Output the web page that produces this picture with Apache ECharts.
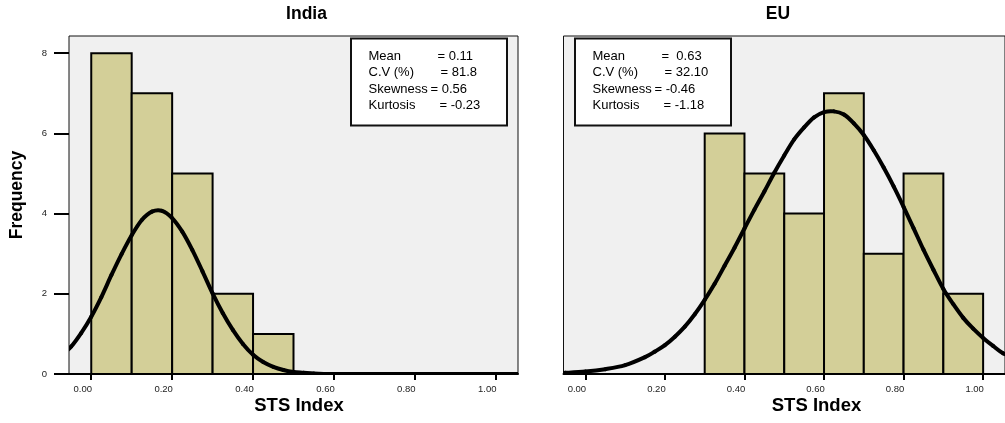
<!DOCTYPE html>
<html>
<head>
<meta charset="utf-8">
<script src="https://cdn.jsdelivr.net/npm/echarts@6/dist/echarts.min.js"></script>
<style>
html,body{margin:0;padding:0;background:#fff;}
#c{width:1005px;height:423px;}
</style>
</head>
<body>
<div id="c"></div>
<script>
// ---- data ----
var binWidth = 0.1;
var indiaBinStarts = [0.0, 0.1, 0.2, 0.3, 0.4];
var indiaCounts = [8, 7, 5, 2, 1];
var euBinStarts = [0.3, 0.4, 0.5, 0.6, 0.7, 0.8, 0.9];
var euCounts = [6, 5, 4, 7, 3, 5, 2];

// normal curves (x, frequency)
var indiaCurveX = [-0.075, -0.05, -0.025, 0.0, 0.025, 0.05, 0.075, 0.10, 0.125, 0.15, 0.175, 0.20, 0.225, 0.25, 0.275, 0.30, 0.325, 0.35, 0.375, 0.40, 0.425, 0.45, 0.475, 0.50, 0.525, 0.55, 0.575, 0.60, 0.65, 0.70, 0.80, 0.90, 1.00, 1.10];
var indiaCurveY = [0.45, 0.68, 1.02, 1.43, 1.92, 2.47, 2.99, 3.46, 3.84, 4.05, 4.07, 3.89, 3.55, 3.09, 2.56, 2.01, 1.52, 1.10, 0.75, 0.48, 0.30, 0.18, 0.10, 0.05, 0.03, 0.01, 0.0, 0.0, 0.0, 0.0, 0.0, 0.0, 0.0, 0.0];
var euCurveX = [-0.10, -0.05, 0.0, 0.05, 0.10, 0.15, 0.175, 0.20, 0.225, 0.25, 0.275, 0.30, 0.325, 0.35, 0.375, 0.40, 0.425, 0.45, 0.475, 0.50, 0.525, 0.55, 0.575, 0.60, 0.625, 0.65, 0.675, 0.70, 0.725, 0.75, 0.775, 0.80, 0.825, 0.85, 0.875, 0.90, 0.925, 0.95, 0.975, 1.00, 1.025, 1.05, 1.10];
var euCurveY = [0.01, 0.03, 0.06, 0.12, 0.22, 0.42, 0.56, 0.72, 0.93, 1.18, 1.49, 1.85, 2.25, 2.70, 3.15, 3.63, 4.10, 4.55, 5.02, 5.45, 5.85, 6.15, 6.40, 6.53, 6.55, 6.47, 6.25, 5.96, 5.58, 5.15, 4.68, 4.17, 3.64, 3.10, 2.60, 2.12, 1.74, 1.40, 1.13, 0.90, 0.70, 0.52, 0.30];

var xTicks = [0, 0.2, 0.4, 0.6, 0.8, 1.0];
var yTicks = [0, 2, 4, 6, 8];

var titles = ['India', 'EU'];
var xAxisName = 'STS Index';
var yAxisName = 'Frequency';
var statLabels = ['Mean', 'C.V (%)', 'Skewness', 'Kurtosis'];
var indiaStatValues = ['= 0.11', '= 81.8', '= 0.56', '= -0.23'];
var euStatValues = ['=  0.63', '= 32.10', '= -0.46', '= -1.18'];

// ---- build ----
var FONT = '"Liberation Sans", Arial, Helvetica, sans-serif';
function zip(a, b) { return a.map(function (v, i) { return [v, b[i]]; }); }
function bins(starts, counts) { return starts.map(function (s, i) { return [s, counts[i], binWidth]; }); }

function renderBin(params, api) {
  var x0 = api.value(0), h = api.value(1), w = api.value(2);
  var p0 = api.coord([x0, h]);
  var p1 = api.coord([x0 + w, 0]);
  return {
    type: 'rect',
    shape: { x: p0[0], y: p0[1], width: p1[0] - p0[0], height: p1[1] - p0[1] },
    style: { fill: '#d3cf98', stroke: '#000', lineWidth: 2 }
  };
}

// smooth (Catmull-Rom) curve segment between data point i and i+1
function curveRenderer(xs, ys) {
  return function (params, api) {
    var i = params.dataIndex, n = xs.length;
    if (i >= n - 1) return null;
    function P(k) { k = Math.max(0, Math.min(n - 1, k)); return api.coord([xs[k], ys[k]]); }
    var p0 = P(i - 1), p1 = P(i), p2 = P(i + 1), p3 = P(i + 2);
    return {
      type: 'bezierCurve',
      shape: {
        x1: p1[0], y1: p1[1], x2: p2[0], y2: p2[1],
        cpx1: p1[0] + (p2[0] - p0[0]) / 6, cpy1: p1[1] + (p2[1] - p0[1]) / 6,
        cpx2: p2[0] - (p3[0] - p1[0]) / 6, cpy2: p2[1] - (p3[1] - p1[1]) / 6
      },
      style: { fill: null, stroke: '#000', lineWidth: 4, lineCap: 'round' }
    };
  };
}

var gridTop = 36, gridH = 338, gridW = 449;
var grids = [
  { left: 69, top: gridTop, width: gridW, height: gridH, show: true, backgroundColor: '#f0f0f0', borderColor: '#111', borderWidth: 1 },
  { left: 563.5, top: gridTop, width: gridW, height: gridH, show: true, backgroundColor: '#f0f0f0', borderColor: '#111', borderWidth: 1 }
];

function xAxis(idx) {
  return {
    type: 'value', gridIndex: idx, min: -0.055, max: 1.055,
    splitLine: { show: false },
    axisLine: { show: true, onZero: false, lineStyle: { color: '#000', width: 2 } },
    axisTick: { show: true, customValues: xTicks, length: 6, lineStyle: { color: '#000', width: 2 } },
    axisLabel: {
      customValues: xTicks, margin: 10, fontSize: 9.5, color: '#222', fontFamily: FONT,
      padding: [0, 17, 0, 0],
      formatter: function (v) { return v.toFixed(2); }
    }
  };
}
function yAxis(idx, showLabels) {
  return {
    type: 'value', gridIndex: idx, min: 0, max: 8.43,
    splitLine: { show: false },
    axisLine: { show: false, onZero: false },
    axisTick: { show: showLabels, customValues: yTicks, length: 15, lineStyle: { color: '#000', width: 2 } },
    axisLabel: { show: showLabels, customValues: yTicks, margin: 22, fontSize: 9.5, color: '#222', fontFamily: FONT }
  };
}

function statBox(x, values) {
  var children = [{
    type: 'rect', shape: { x: x, y: 38.5, width: 156, height: 87 },
    style: { fill: '#fff', stroke: '#111', lineWidth: 2 }
  }];
  var lineY = [56, 72.5, 89, 105.5];
  var eqOff = [69, 72, 62, 71];
  for (var i = 0; i < statLabels.length; i++) {
    children.push({ type: 'text', x: x + 17.5, y: lineY[i],
      style: { text: statLabels[i], fontSize: 13, fontFamily: FONT, fill: '#000', verticalAlign: 'middle' } });
    children.push({ type: 'text', x: x + 17.5 + eqOff[i], y: lineY[i],
      style: { text: values[i], fontSize: 13, fontFamily: FONT, fill: '#000', verticalAlign: 'middle' } });
  }
  return { type: 'group', z: 100, children: children };
}

function bigText(txt, x, y, size, rot) {
  return { type: 'text', x: x, y: y, rotation: rot || 0, z: 100,
    style: { text: txt, fontSize: size, fontWeight: 'bold', fontFamily: FONT, fill: '#000', align: 'center', verticalAlign: 'middle' } };
}

var chart = echarts.init(document.getElementById('c'), null, { renderer: 'canvas' });
chart.setOption({
  animation: false,
  backgroundColor: '#fff',
  grid: grids,
  xAxis: [xAxis(0), xAxis(1)],
  yAxis: [yAxis(0, true), yAxis(1, false)],
  series: [
    { type: 'custom', xAxisIndex: 0, yAxisIndex: 0, renderItem: renderBin, encode: { x: 0, y: 1 }, data: bins(indiaBinStarts, indiaCounts), z: 2 },
    { type: 'custom', xAxisIndex: 1, yAxisIndex: 1, renderItem: renderBin, encode: { x: 0, y: 1 }, data: bins(euBinStarts, euCounts), z: 2 },
    { type: 'custom', xAxisIndex: 0, yAxisIndex: 0, renderItem: curveRenderer(indiaCurveX, indiaCurveY), encode: { x: 0, y: 1 }, data: zip(indiaCurveX, indiaCurveY), clip: true, z: 3 },
    { type: 'custom', xAxisIndex: 1, yAxisIndex: 1, renderItem: curveRenderer(euCurveX, euCurveY), encode: { x: 0, y: 1 }, data: zip(euCurveX, euCurveY), clip: true, z: 3 }
  ],
  graphic: [
    bigText(titles[0], 306.5, 14, 17.5),
    bigText(titles[1], 778, 14, 17.5),
    bigText(xAxisName, 299, 406, 18.5),
    bigText(xAxisName, 816.5, 406, 18.5),
    bigText(yAxisName, 17, 195, 17.5, Math.PI / 2),
    statBox(351, indiaStatValues),
    statBox(575, euStatValues)
  ]
});
</script>
</body>
</html>
